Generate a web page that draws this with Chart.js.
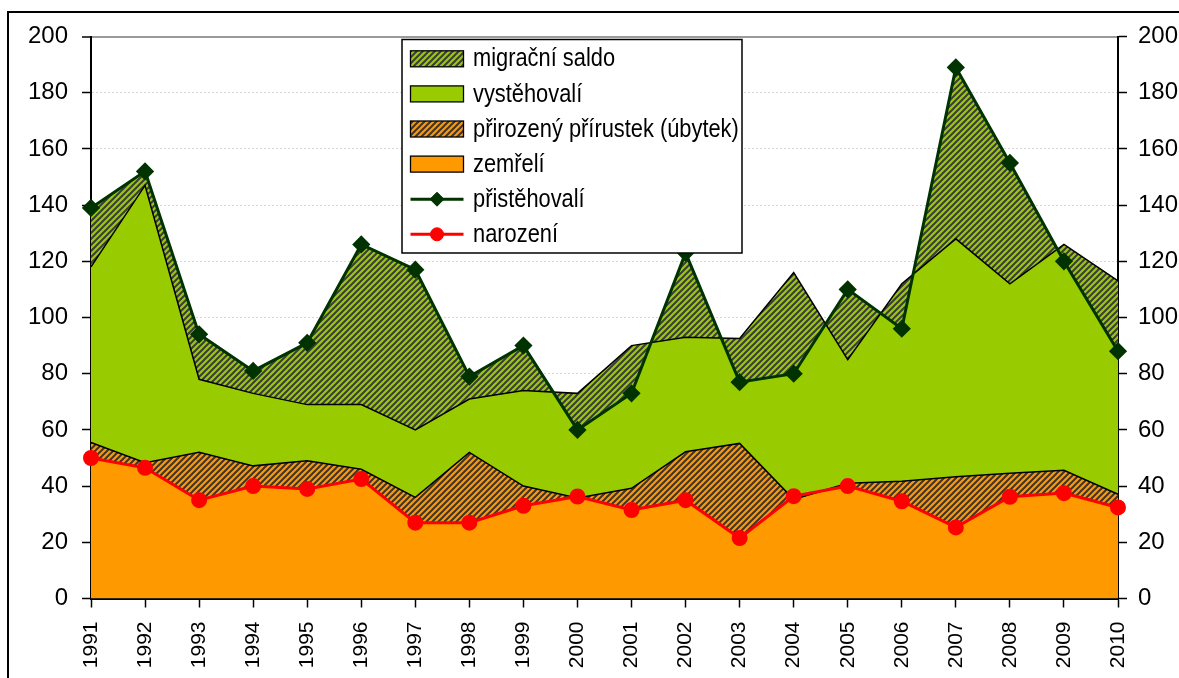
<!DOCTYPE html>
<html>
<head>
<meta charset="utf-8">
<script src="https://cdn.jsdelivr.net/npm/chart.js@4/dist/chart.umd.min.js"></script>
<style>
html,body{margin:0;padding:0;background:#fff;overflow:hidden;}
#wrap{width:1179px;height:678px;position:relative;}
canvas{display:block;}
</style>
</head>
<body>
<div id="wrap"><canvas id="c" width="1179" height="678"></canvas></div>
<script>
// ---- data ----
const years = ['1991','1992','1993','1994','1995','1996','1997','1998','1999','2000',
               '2001','2002','2003','2004','2005','2006','2007','2008','2009','2010'];
const narozeni     = [50, 46.5, 35, 40, 39, 42.5, 27, 27, 33, 36.3, 31.5, 35, 21.5, 36.4, 40, 34.6, 25.3, 36.2, 37.5, 32.4];
const zemreli      = [55.5, 48.3, 52, 47.2, 49, 46, 36, 52, 40, 35.8, 39.2, 52.2, 55.2, 35.3, 41, 41.7, 43.3, 44.6, 45.6, 37.1];
const pristehovali = [139, 152, 94, 81, 91, 126, 117, 79, 90, 60, 73, 123, 77, 80, 110, 96, 189, 155, 120, 88];
const vystehovali  = [118, 147, 78, 73, 69, 69, 60, 71, 74, 73, 90, 93, 92.5, 116, 85, 112, 128, 112, 126, 113];
const yTicks = [0, 20, 40, 60, 80, 100, 120, 140, 160, 180, 200];
const seriesNames = ['migrační saldo', 'vystěhovalí', 'přirozený přírustek (úbytek)', 'zemřelí', 'přistěhovalí', 'narození'];

// ---- styles ----
const FONT = "'Liberation Sans',Arial,sans-serif";
const ORANGE = '#ff9900', GREEN = '#99cc00', RED = '#ff0000', DKGREEN = '#003300';

function hatch(bg, fg) {
  const c = document.createElement('canvas');
  c.width = 6; c.height = 6;
  const g = c.getContext('2d');
  g.fillStyle = bg; g.fillRect(0, 0, 6, 6);
  g.strokeStyle = fg; g.lineWidth = 2.0; g.lineCap = 'square';
  g.beginPath();
  g.moveTo(-2, 8); g.lineTo(8, -2);
  g.moveTo(-5, 5); g.lineTo(5, -5);
  g.moveTo(1, 11); g.lineTo(11, 1);
  g.stroke();
  return g.createPattern(c, 'repeat');
}
const hatchGreen = hatch(GREEN, '#3c3c3c');
const hatchOrange = hatch(ORANGE, '#40342a');

const datasets = [
  { label: seriesNames[5], data: narozeni, borderColor: RED, backgroundColor: RED, borderWidth: 3,
    pointStyle: 'circle', pointRadius: 6.5, pointBackgroundColor: RED, pointBorderColor: RED,
    fill: false, clip: false, legendKind: 'line', legendOrder: 5 },
  { label: seriesNames[4], data: pristehovali, borderColor: DKGREEN, backgroundColor: DKGREEN, borderWidth: 3,
    pointStyle: 'rectRot', pointRadius: 7, pointBackgroundColor: DKGREEN, pointBorderColor: DKGREEN,
    fill: false, clip: false, legendKind: 'line', legendOrder: 4 },
  { label: seriesNames[2], data: zemreli, borderColor: '#000', borderWidth: 1.5, pointRadius: 0,
    backgroundColor: hatchOrange, fill: { target: 0, above: hatchOrange, below: hatchOrange },
    legendKind: 'box', legendOrder: 2 },
  { label: seriesNames[3], data: zemreli, borderColor: 'rgba(0,0,0,0)', borderWidth: 0, pointRadius: 0,
    backgroundColor: ORANGE, fill: 'origin', legendKind: 'box', legendOrder: 3 },
  { label: seriesNames[0], data: vystehovali, borderColor: '#000', borderWidth: 1.5, pointRadius: 0,
    backgroundColor: hatchGreen, fill: { target: 1, above: hatchGreen, below: hatchGreen },
    legendKind: 'box', legendOrder: 0 },
  { label: seriesNames[1], data: vystehovali, borderColor: 'rgba(0,0,0,0)', borderWidth: 0, pointRadius: 0,
    backgroundColor: GREEN, fill: 'origin', legendKind: 'box', legendOrder: 1 }
];

const decorPlugin = {
  id: 'decor',
  beforeDraw(chart) {
    const ctx = chart.ctx;
    ctx.save();
    ctx.fillStyle = '#fff';
    ctx.fillRect(0, 0, chart.width, chart.height);
    ctx.restore();
  },
  afterDraw(chart) {
    const ctx = chart.ctx;
    ctx.save();
    // outer frame
    ctx.strokeStyle = '#000';
    ctx.lineWidth = 2;
    ctx.strokeRect(8, 12, chart.width + 20, chart.height + 20);
    // legend box
    const L = { x: 402, y: 39.5, w: 340, h: 213.5 };
    ctx.fillStyle = '#fff';
    ctx.fillRect(L.x, L.y, L.w, L.h);
    ctx.lineWidth = 1.5;
    ctx.strokeRect(L.x, L.y, L.w, L.h);
    const items = chart.data.datasets.slice().sort((a, b) => a.legendOrder - b.legendOrder);
    items.forEach((ds, i) => {
      const cy = 58.8 + i * 35.1;
      const sx = 410.5, sw = 53;
      if (ds.legendKind === 'box') {
        ctx.fillStyle = ds.backgroundColor;
        ctx.fillRect(sx, cy - 8, sw, 16);
        ctx.strokeStyle = '#000';
        ctx.lineWidth = 1.3;
        ctx.strokeRect(sx, cy - 8, sw, 16);
      } else {
        ctx.strokeStyle = ds.borderColor;
        ctx.lineWidth = 3;
        ctx.beginPath();
        ctx.moveTo(sx, cy); ctx.lineTo(sx + sw, cy);
        ctx.stroke();
        ctx.fillStyle = ds.pointBackgroundColor;
        ctx.strokeStyle = ds.pointBorderColor;
        ctx.lineWidth = 1;
        Chart.helpers.drawPoint(ctx, {
          pointStyle: ds.pointStyle, radius: ds.pointRadius, rotation: 0, borderWidth: 1
        }, sx + sw / 2, cy);
      }
      ctx.save();
      ctx.fillStyle = '#000';
      ctx.font = "26px " + FONT;
      ctx.textBaseline = 'middle';
      ctx.textAlign = 'left';
      ctx.translate(473, cy + 0.5);
      ctx.scale(0.84, 1);
      ctx.fillText(ds.label, 0, 0);
      ctx.restore();
    });
    ctx.restore();
  }
};

const gridColor = c => (c.tick && c.tick.value === 200) ? '#9a9a9a' : '#d6d6d6';
const gridWidth = c => (c.tick && c.tick.value === 200) ? 2 : 1;
const gridDash = c => (c.tick && c.tick.value !== 200) ? [2, 2] : [];

new Chart(document.getElementById('c'), {
  type: 'line',
  data: { labels: years, datasets: datasets },
  options: {
    responsive: false,
    devicePixelRatio: 1,
    animation: false,
    events: [],
    elements: { line: { tension: 0 } },
    layout: { padding: { top: 36.5, left: 0, right: 0, bottom: 0 } },
    plugins: {
      legend: { display: false },
      tooltip: { enabled: false },
      filler: { drawTime: 'beforeDatasetsDraw' }
    },
    scales: {
      x: {
        type: 'category', offset: false,
        ticks: { autoSkip: false, maxRotation: 90, minRotation: 90, color: '#000',
                 font: { family: FONT, size: 21 }, padding: 14 },
        grid: { drawOnChartArea: false, offset: false, tickColor: '#000', tickLength: 9, tickWidth: 1.5 },
        border: { color: '#000', width: 2 },
        afterFit: s => { s.height = 79.5; }
      },
      y: {
        position: 'left', min: 0, max: 200,
        afterBuildTicks: s => { s.ticks = yTicks.map(v => ({ value: v })); },
        ticks: { color: '#000', font: { family: FONT, size: 24 }, padding: 14 },
        grid: { color: gridColor, lineWidth: gridWidth, tickColor: '#000', tickLength: 9, tickWidth: 1.5 },
        border: { color: '#000', width: 2, dash: gridDash },
        afterFit: s => { s.width = 91; }
      },
      y2: {
        position: 'right', min: 0, max: 200,
        afterBuildTicks: s => { s.ticks = yTicks.map(v => ({ value: v })); },
        ticks: { color: '#000', font: { family: FONT, size: 24 }, padding: 11 },
        grid: { drawOnChartArea: false, tickColor: '#000', tickLength: 9, tickWidth: 1.5 },
        border: { color: '#000', width: 2 },
        afterFit: s => { s.width = 61; }
      }
    }
  },
  plugins: [decorPlugin]
});
</script>
</body>
</html>
